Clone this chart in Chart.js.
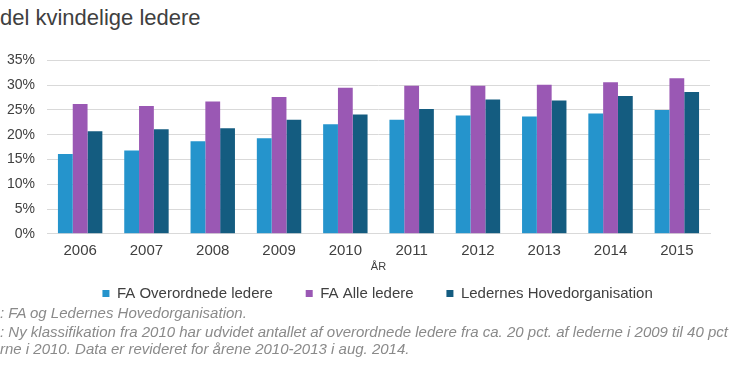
<!DOCTYPE html>
<html>
<head>
<meta charset="utf-8">
<script src="https://cdn.jsdelivr.net/npm/chart.js@4"></script>
<style>
  body { margin: 0; width: 730px; height: 365px; background: #fff; overflow: hidden; position: relative; font-family: "Liberation Sans", Arial, sans-serif; }
  #title { position: absolute; left: 0; top: 5px; font-size: 22px; color: #404040; white-space: nowrap; }
  #chartBox { position: absolute; left: 0; top: 40px; width: 730px; height: 271px; }
  .note { position: absolute; left: 0; font-family: "Liberation Sans Narrow", "Liberation Sans", sans-serif; font-style: italic; font-size: 15px; color: #8a8a8a; white-space: nowrap; }
</style>
</head>
<body>
<div id="title">del kvindelige ledere</div>
<div id="chartBox"><canvas id="chart"></canvas></div>
<div class="note" style="top:304px">: FA og Ledernes Hovedorganisation.</div>
<div class="note" style="top:323px">: Ny klassifikation fra 2010 har udvidet antallet af overordnede ledere fra ca. 20 pct. af lederne i 2009 til 40 pct</div>
<div class="note" style="top:340px">rne i 2010. Data er revideret for årene 2010-2013 i aug. 2014.</div>
<script>
const years = ["2006", "2007", "2008", "2009", "2010", "2011", "2012", "2013", "2014", "2015"];
const faOverordnede = [16.1, 16.8, 18.7, 19.3, 22.1, 23.0, 23.9, 23.7, 24.3, 25.0];
const faAlle = [26.2, 25.8, 26.7, 27.6, 29.5, 29.9, 29.9, 30.1, 30.6, 31.4];
const lederneHO = [20.7, 21.1, 21.3, 23.0, 24.1, 25.2, 27.1, 26.9, 27.8, 28.6];
const yTicks = [0, 5, 10, 15, 20, 25, 30, 35];

// the original legend sits a bit right of centre
const shiftLegend = {
  id: "shiftLegend",
  afterLayout(chart) {
    chart.legend.left += 33;
    chart.legend.right += 33;
  },
};

const ctx = document.getElementById("chart").getContext("2d");
new Chart(ctx, {
  type: "bar",
  data: {
    labels: years,
    datasets: [
      { label: "FA Overordnede ledere", data: faOverordnede, backgroundColor: "#2594cc" },
      { label: "FA Alle ledere", data: faAlle, backgroundColor: "#9a58b4" },
      { label: "Ledernes Hovedorganisation", data: lederneHO, backgroundColor: "#145c80" },
    ],
  },
  plugins: [shiftLegend],
  options: {
    responsive: true,
    maintainAspectRatio: false,
    animation: false,
    layout: { padding: { top: 0, right: 20, left: 0, bottom: 0 } },
    datasets: { bar: { categoryPercentage: 0.67, barPercentage: 1.0 } },
    plugins: {
      tooltip: { enabled: false },
      legend: {
        position: "bottom",
        labels: {
          boxWidth: 7,
          boxHeight: 7,
          padding: 12,
          color: "#404040",
          font: { family: "Liberation Sans", size: 15 },
          // extra space after each label so the items sit apart like the original
          generateLabels: (chart) =>
            Chart.defaults.plugins.legend.labels.generateLabels(chart).map((item) => {
              item.text = item.text + "\u00a0\u00a0\u00a0\u00a0\u00a0";
              return item;
            }),
        },
      },
    },
    scales: {
      x: {
        grid: { display: false },
        border: { display: true, color: "#d9d9d9" },
        ticks: { color: "#404040", font: { family: "Liberation Sans", size: 15 }, padding: 0 },
        title: { display: true, text: "ÅR", color: "#404040", font: { family: "Liberation Sans", size: 11 }, padding: { top: 1, bottom: 0 } },
      },
      y: {
        min: 0,
        max: 35,
        afterBuildTicks: (axis) => { axis.ticks = yTicks.map((v) => ({ value: v })); },
        afterFit: (axis) => { axis.width = 47; },
        grid: { color: "#d9d9d9", drawTicks: false },
        border: { display: false },
        ticks: {
          color: "#404040",
          font: { family: "Liberation Sans", size: 14 },
          padding: 12,
          callback: (v) => v + "%",
        },
      },
    },
  },
});
</script>
</body>
</html>
